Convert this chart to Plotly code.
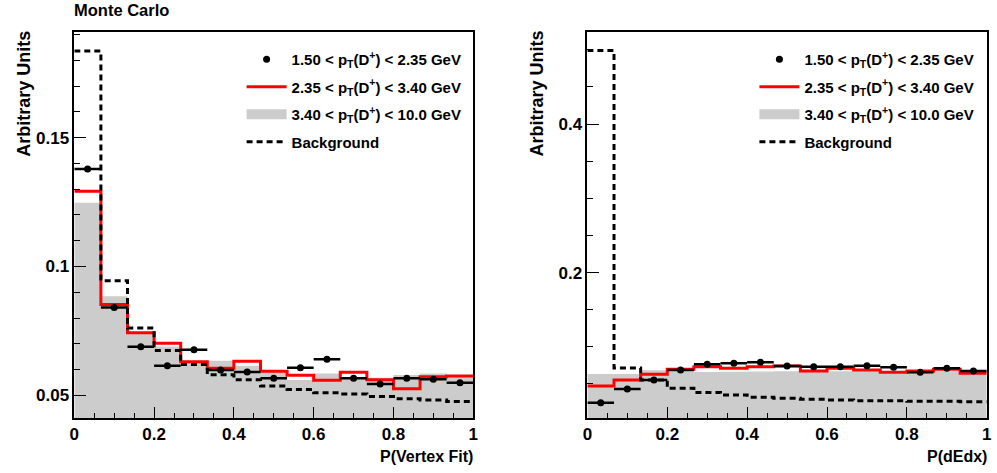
import plotly.graph_objects as go
from plotly.subplots import make_subplots

# ---------------- data ----------------
bin_edges = [i / 15 for i in range(16)]
bin_centers = [(bin_edges[i] + bin_edges[i + 1]) / 2 for i in range(15)]
half_width = [(bin_edges[i + 1] - bin_edges[i]) / 2 for i in range(15)]

# Left panel: P(Vertex Fit)
vtx_low = [0.1378, 0.0841, 0.0689, 0.0615, 0.0677, 0.0598, 0.0591, 0.0566,
           0.0607, 0.0640, 0.0566, 0.0544, 0.0566, 0.0563, 0.0549]
vtx_mid = [0.1292, 0.0853, 0.0743, 0.0702, 0.0630, 0.0605, 0.0632, 0.0594,
           0.0578, 0.0559, 0.0590, 0.0561, 0.0526, 0.0572, 0.0575]
vtx_high = [0.1247, 0.0885, 0.0741, 0.0690, 0.0626, 0.0634, 0.0615, 0.0598,
            0.0560, 0.0585, 0.0565, 0.0568, 0.0579, 0.0585, 0.0576]
vtx_bkg = [0.1836, 0.0945, 0.0761, 0.0674, 0.0620, 0.0580, 0.0561, 0.0536,
           0.0523, 0.0510, 0.0505, 0.0496, 0.0487, 0.0482, 0.0476]

# Right panel: P(dEdx)
dedx_low = [0.0248, 0.0433, 0.0554, 0.0689, 0.0765, 0.0779, 0.0792, 0.0743,
            0.0733, 0.0733, 0.0747, 0.0725, 0.0658, 0.0711, 0.0675]
dedx_mid = [0.0473, 0.0554, 0.0631, 0.0698, 0.0733, 0.0711, 0.0733, 0.0743,
            0.0675, 0.0711, 0.0689, 0.0658, 0.0675, 0.0698, 0.0644]
dedx_high = [0.0635, 0.0635, 0.0685, 0.0672, 0.0662, 0.0665, 0.0668, 0.0670,
             0.0668, 0.0670, 0.0670, 0.0668, 0.0668, 0.0672, 0.0668]
dedx_bkg = [0.4990, 0.0715, 0.0554, 0.0442, 0.0385, 0.0352, 0.0321, 0.0307,
            0.0294, 0.0285, 0.0276, 0.0274, 0.0267, 0.0266, 0.0262]

labels = [
    "1.50 < p<sub>T</sub>(D<sup>+</sup>) < 2.35 GeV",
    "2.35 < p<sub>T</sub>(D<sup>+</sup>) < 3.40 GeV",
    "3.40 < p<sub>T</sub>(D<sup>+</sup>) < 10.0 GeV",
    "Background",
]

FONT = "Liberation Sans, Arial, sans-serif"
GRAY = "#cccccc"

fig = make_subplots(rows=1, cols=2)


def step_y(vals):
    return list(vals) + [vals[-1]]


def add_panel(col, low, mid, high, bkg, legend):
    fig.add_trace(go.Scatter(
        x=bin_edges, y=step_y(high), mode="lines", line_shape="hv",
        line=dict(width=0, color=GRAY), fill="tozeroy", fillcolor=GRAY,
        name=labels[2], showlegend=False, legendgroup="c"),
        row=1, col=col)
    # legend proxy for the filled histogram (wide grey box)
    fig.add_trace(go.Scatter(
        x=[None], y=[None], mode="lines",
        line=dict(width=17, color=GRAY),
        name=labels[2], legend=legend, legendrank=3, legendgroup="c"),
        row=1, col=col)
    fig.add_trace(go.Scatter(
        x=bin_edges, y=step_y(mid), mode="lines", line_shape="hv",
        line=dict(width=3, color="#ff0000"),
        name=labels[1], legend=legend, legendrank=2, legendgroup="b"),
        row=1, col=col)
    fig.add_trace(go.Scatter(
        x=bin_edges, y=step_y(bkg), mode="lines", line_shape="hv",
        line=dict(width=3, color="black", dash="6px,4px"),
        name=labels[3], legend=legend, legendrank=4, legendgroup="d"),
        row=1, col=col)
    fig.add_trace(go.Scatter(
        x=bin_centers, y=low, mode="markers",
        marker=dict(color="black", size=7),
        error_x=dict(type="data", array=half_width, color="black", thickness=2.5, width=0),
        name=labels[0], legend=legend, legendrank=1, legendgroup="a"),
        row=1, col=col)


add_panel(1, vtx_low, vtx_mid, vtx_high, vtx_bkg, "legend")
add_panel(2, dedx_low, dedx_mid, dedx_high, dedx_bkg, "legend2")

W, H = 997, 473
xl = [70 / W, 473 / W]
xr = [588.3 / W, 991.7 / W]
yd = [(H - 418.3) / H, (H - 32) / H]

axis_common = dict(
    showline=True, linecolor="black", linewidth=1.5, mirror=True,
    ticks="inside", ticklen=12, tickwidth=1.2, tickcolor="black",
    showgrid=False, zeroline=False,
    tickfont=dict(family=FONT, size=17, color="black", weight="bold"),
)

fig.update_xaxes(range=[0, 1], dtick=0.2, tick0=0,
                 minor=dict(ticks="inside", ticklen=6, dtick=0.05, tickcolor="black", tickwidth=1.2),
                 **axis_common)
fig.update_xaxes(domain=xl, row=1, col=1)
fig.update_xaxes(domain=xr, row=1, col=2)

fig.update_yaxes(domain=yd, **axis_common)
fig.update_yaxes(range=[0.0411, 0.191], dtick=0.05, tick0=0,
                 minor=dict(ticks="inside", ticklen=6, dtick=0.01, tickcolor="black", tickwidth=1.2),
                 row=1, col=1)
fig.update_yaxes(range=[0.0038, 0.524], dtick=0.2, tick0=0,
                 minor=dict(ticks="inside", ticklen=6, dtick=0.05, tickcolor="black", tickwidth=1.2),
                 row=1, col=2)

legend_common = dict(
    xanchor="left", yanchor="top", bgcolor="rgba(0,0,0,0)",
    font=dict(family=FONT, size=15, color="black", weight="bold"),
    tracegroupgap=5, traceorder="grouped", itemwidth=40,
)

fig.update_layout(
    width=W, height=H,
    margin=dict(l=0, r=0, t=0, b=0),
    paper_bgcolor="white", plot_bgcolor="white",
    showlegend=True,
    legend=dict(x=239 / W, y=(H - 43) / H, **legend_common),
    legend2=dict(x=757 / W, y=(H - 43) / H, **legend_common),
)

ytitle_font = dict(family=FONT, size=18, color="black", weight="bold")
xtitle_font = dict(family=FONT, size=16, color="black", weight="bold")
fig.add_annotation(text="Monte Carlo", xref="paper", yref="paper",
                   x=68 / W, y=(H - 10) / H, xanchor="left", yanchor="middle",
                   showarrow=False, font=dict(family=FONT, size=16.5, color="black", weight="bold"))
fig.add_annotation(text="Arbitrary Units", xref="paper", yref="paper",
                   x=19 / W, y=(H - 94) / H, xanchor="center", yanchor="middle",
                   textangle=-90, showarrow=False, font=ytitle_font)
fig.add_annotation(text="Arbitrary Units", xref="paper", yref="paper",
                   x=537 / W, y=(H - 94) / H, xanchor="center", yanchor="middle",
                   textangle=-90, showarrow=False, font=ytitle_font)
fig.add_annotation(text="P(Vertex Fit)", xref="paper", yref="paper",
                   x=475 / W, y=(H - 456) / H, xanchor="right", yanchor="middle",
                   showarrow=False, font=xtitle_font)
fig.add_annotation(text="P(dEdx)", xref="paper", yref="paper",
                   x=994 / W, y=(H - 456) / H, xanchor="right", yanchor="middle",
                   showarrow=False, font=xtitle_font)

fig.write_html("out.html", config={"displayModeBar": False},
               post_script="document.body.style.margin='0';")
